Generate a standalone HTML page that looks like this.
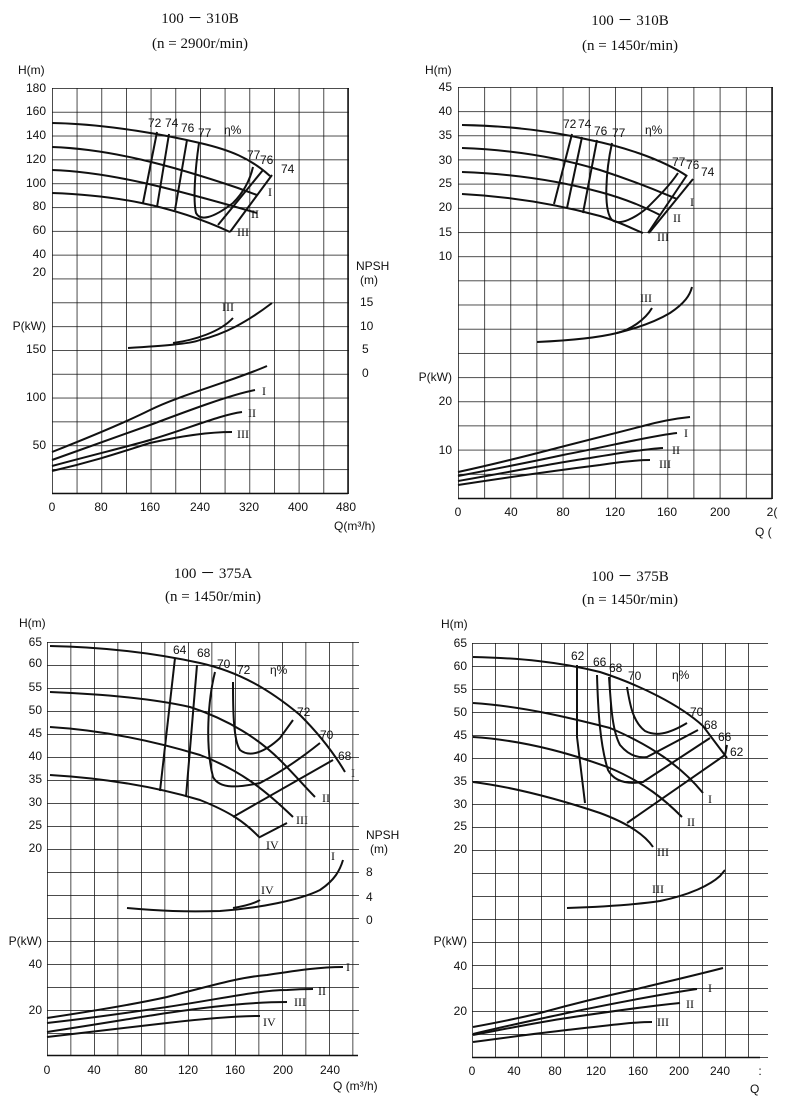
<!DOCTYPE html>
<html><head><meta charset="utf-8"><style>
html,body{margin:0;padding:0;background:#fff}
svg{display:block}
text{font-family:"Liberation Sans",sans-serif;font-size:12px;fill:#111}
.t{font-family:"Liberation Serif",serif;font-size:15px}
.r{font-family:"Liberation Serif",serif;font-size:12px}
path.c{fill:none;stroke:#111;stroke-width:2}
</style></head><body>
<svg width="800" height="1098" viewBox="0 0 800 1098" xmlns="http://www.w3.org/2000/svg">
<defs>
<pattern id="g1" x="52" y="88" width="24.67" height="23.82" patternUnits="userSpaceOnUse"><path d="M0,0H24.67M0,0V23.82" stroke="#111" stroke-width="1.5" fill="none"/></pattern>
<pattern id="g2" x="458" y="87" width="26.17" height="24.18" patternUnits="userSpaceOnUse"><path d="M0,0H26.17M0,0V24.18" stroke="#111" stroke-width="1.5" fill="none"/></pattern>
<pattern id="g3" x="47" y="642" width="23.5" height="23" patternUnits="userSpaceOnUse"><path d="M0,0H23.5M0,0V23" stroke="#111" stroke-width="1.5" fill="none"/></pattern>
<pattern id="g4" x="472" y="643" width="23" height="23" patternUnits="userSpaceOnUse"><path d="M0,0H23M0,0V23" stroke="#111" stroke-width="1.5" fill="none"/></pattern>
</defs>
<rect width="800" height="1098" fill="#fff"/>
<rect x="52" y="88" width="297" height="406" fill="url(#g1)"/>
<path d="M52,493.5H348M348,88V493" stroke="#111" stroke-width="1.5"/>
<rect x="458" y="87" width="315" height="412" fill="url(#g2)"/>
<path d="M458,498.5H772M772,87V498" stroke="#111" stroke-width="1.5"/>
<rect x="47" y="642" width="312" height="414" fill="url(#g3)"/>
<path d="M47,1055.5H358" stroke="#111" stroke-width="1.5"/>
<rect x="472" y="643" width="296" height="415" fill="url(#g4)"/>
<path d="M472,1057.5H760" stroke="#111" stroke-width="1.5"/>

<text class="t" x="200" y="23" text-anchor="middle">100 － 310B</text>
<text class="t" x="200" y="48" text-anchor="middle">(n = 2900r/min)</text>
<text class="t" x="630" y="25" text-anchor="middle">100 － 310B</text>
<text class="t" x="630" y="50" text-anchor="middle">(n = 1450r/min)</text>
<text class="t" x="213" y="578" text-anchor="middle">100 － 375A</text>
<text class="t" x="213" y="601" text-anchor="middle">(n = 1450r/min)</text>
<text class="t" x="630" y="581" text-anchor="middle">100 － 375B</text>
<text class="t" x="630" y="604" text-anchor="middle">(n = 1450r/min)</text>

<g text-anchor="end">
<text x="18" y="74" text-anchor="start">H(m)</text>
<text x="46" y="92">180</text><text x="46" y="115">160</text><text x="46" y="139">140</text><text x="46" y="163">120</text><text x="46" y="187">100</text><text x="46" y="210">80</text><text x="46" y="234">60</text><text x="46" y="258">40</text><text x="46" y="276">20</text>
<text x="46" y="330">P(kW)</text><text x="46" y="353">150</text><text x="46" y="401">100</text><text x="46" y="449">50</text>
</g>
<text x="356" y="270">NPSH</text><text x="360" y="284">(m)</text>
<text x="360" y="306">15</text><text x="360" y="330">10</text><text x="362" y="353">5</text><text x="362" y="377">0</text>
<g text-anchor="middle">
<text x="52" y="511">0</text><text x="101" y="511">80</text><text x="150" y="511">160</text><text x="200" y="511">240</text><text x="249" y="511">320</text><text x="298" y="511">400</text><text x="346" y="511">480</text>
</g>
<text x="334" y="530">Q(m³/h)</text>
<g>
<text x="148" y="127">72</text><text x="165" y="127">74</text><text x="181" y="132">76</text><text x="198" y="137">77</text><text x="224" y="134" font-size="14">η%</text>
<text x="247" y="159">77</text><text x="260" y="164">76</text><text x="281" y="173">74</text>
<text class="r" x="268" y="196">I</text><text class="r" x="251" y="218">II</text><text class="r" x="237" y="236">III</text>
<text class="r" x="222" y="311">III</text>
<text class="r" x="262" y="395">I</text><text class="r" x="248" y="417">II</text><text class="r" x="237" y="438">III</text>
</g>
<g>
<path class="c" d="M52,123 C110,124 170,136 200,143 S250,158 270,176"/>
<path class="c" d="M52,147 C110,149 170,165 238,188 L257,195"/>
<path class="c" d="M52,170 C110,172 170,188 257,213"/>
<path class="c" d="M52,193 C110,195 170,204 230,232"/>
<path class="c" d="M157,132 L143,203"/><path class="c" d="M169,134 L157,207"/><path class="c" d="M187,140 L175,210"/>
<path class="c" d="M199,143 C195,170 193,200 196,213 C200,221 212,219 233,203 C243,193 250,180 253,167"/>
<path class="c" d="M263,170 L218,225"/><path class="c" d="M272,175 L230,232"/>
<path class="c" d="M128,348 C160,346 190,344 200,340 C225,334 247,322 272,303"/>
<path class="c" d="M173,343 C195,340 220,332 233,318"/>
<path class="c" d="M52,452 C100,433 130,420 150,410 C180,395 230,382 267,366"/>
<path class="c" d="M52,460 C100,443 130,432 150,425 C190,410 230,395 255,390"/>
<path class="c" d="M52,466 C100,453 130,446 150,440 C190,428 220,415 242,412"/>
<path class="c" d="M52,471 C100,460 130,449 150,443 C190,434 215,432 232,432"/>
</g>

<g text-anchor="end">
<text x="425" y="74" text-anchor="start">H(m)</text>
<text x="452" y="91">45</text><text x="452" y="115">40</text><text x="452" y="139">35</text><text x="452" y="164">30</text><text x="452" y="187">25</text><text x="452" y="211">20</text><text x="452" y="236">15</text><text x="452" y="260">10</text>
<text x="452" y="381">P(kW)</text><text x="452" y="405">20</text><text x="452" y="454">10</text>
</g>
<g text-anchor="middle">
<text x="458" y="516">0</text><text x="511" y="516">40</text><text x="563" y="516">80</text><text x="615" y="516">120</text><text x="667" y="516">160</text><text x="720" y="516">200</text><text x="772" y="516">2(</text>
</g>
<text x="755" y="536">Q  (</text>
<g>
<text x="563" y="128">72</text><text x="578" y="128">74</text><text x="594" y="135">76</text><text x="612" y="137">77</text><text x="645" y="134" font-size="14">η%</text>
<text x="672" y="166">77</text><text x="686" y="169">76</text><text x="701" y="176">74</text>
<text class="r" x="690" y="206">I</text><text class="r" x="673" y="222">II</text><text class="r" x="657" y="241">III</text>
<text class="r" x="640" y="302">III</text>
<text class="r" x="684" y="437">I</text><text class="r" x="672" y="454">II</text><text class="r" x="659" y="468">III</text>
</g>
<g>
<path class="c" d="M462,125 C520,126 560,133 590,140 C620,146 660,158 687,176"/>
<path class="c" d="M462,148 C520,150 567,160 600,170 C640,183 660,192 677,199"/>
<path class="c" d="M462,172 C520,174 567,183 600,192 C630,200 650,210 660,215"/>
<path class="c" d="M462,194 C520,197 567,207 600,216 C620,222 635,230 643,233"/>
<path class="c" d="M572,134 L554,204"/><path class="c" d="M582,137 L567,208"/><path class="c" d="M597,140 L583,213"/>
<path class="c" d="M612,143 C606,170 603,210 612,220 C620,226 635,218 647,208 C660,195 670,185 678,173"/>
<path class="c" d="M687,175 L648,233"/><path class="c" d="M693,179 L649,233"/>
<path class="c" d="M537,342 C580,340 605,336 617,333 C650,325 665,316 670,313 C685,303 690,295 692,287"/>
<path class="c" d="M617,333 C630,330 645,320 652,308"/>
<path class="c" d="M458,472 C500,463 530,455 557,448 C600,437 620,432 643,426 C665,420 680,418 690,417"/>
<path class="c" d="M458,476 C500,468 540,460 563,455 C610,446 650,436 677,433"/>
<path class="c" d="M458,481 C510,472 560,462 590,458 C620,453 645,449 663,448"/>
<path class="c" d="M458,485 C510,477 560,470 600,465 C620,462 640,460 650,460"/>
</g>

<g text-anchor="end">
<text x="19" y="627" text-anchor="start">H(m)</text>
<text x="42" y="646">65</text><text x="42" y="667">60</text><text x="42" y="691">55</text><text x="42" y="714">50</text><text x="42" y="737">45</text><text x="42" y="760">40</text><text x="42" y="783">35</text><text x="42" y="806">30</text><text x="42" y="829">25</text><text x="42" y="852">20</text>
<text x="42" y="945">P(kW)</text><text x="42" y="968">40</text><text x="42" y="1014">20</text>
</g>
<text x="366" y="839">NPSH</text><text x="370" y="853">(m)</text>
<text x="366" y="876">8</text><text x="366" y="901">4</text><text x="366" y="924">0</text>
<g text-anchor="middle">
<text x="47" y="1074">0</text><text x="94" y="1074">40</text><text x="141" y="1074">80</text><text x="188" y="1074">120</text><text x="235" y="1074">160</text><text x="283" y="1074">200</text><text x="330" y="1074">240</text>
</g>
<text x="333" y="1090">Q  (m³/h)</text>
<g>
<text x="173" y="654">64</text><text x="197" y="657">68</text><text x="217" y="668">70</text><text x="237" y="674">72</text><text x="270" y="674" font-size="14">η%</text>
<text x="297" y="716">72</text><text x="320" y="739">70</text><text x="338" y="760">68</text>
<text class="r" x="351" y="777">I</text><text class="r" x="322" y="802">II</text><text class="r" x="296" y="824">III</text><text class="r" x="266" y="849">IV</text>
<text class="r" x="331" y="860">I</text><text class="r" x="261" y="894">IV</text>
<text class="r" x="346" y="971">I</text><text class="r" x="318" y="995">II</text><text class="r" x="294" y="1006">III</text><text class="r" x="263" y="1026">IV</text>
</g>
<g>
<path class="c" d="M50,646 C100,647 150,652 200,663 C240,672 270,690 300,715 C320,735 335,755 345,772"/>
<path class="c" d="M50,692 C100,694 150,698 190,707 C230,720 260,740 280,760 C295,775 305,787 315,797"/>
<path class="c" d="M50,727 C100,730 150,740 200,755 C240,770 265,790 293,817"/>
<path class="c" d="M50,775 C100,778 150,785 200,800 C230,812 245,822 260,838"/>
<path class="c" d="M175,658 L160,791"/><path class="c" d="M197,665 L186,797"/>
<path class="c" d="M215,672 C208,700 205,745 213,777 C220,790 240,787 260,783 C285,770 305,755 320,743"/>
<path class="c" d="M233,682 C233,705 233,740 240,750 C250,758 265,752 280,738 L293,720"/>
<path class="c" d="M233,817 L333,760"/><path class="c" d="M260,837 L287,823"/>
<path class="c" d="M127,908 C160,911 185,912 220,911 C260,908 300,900 320,890 C335,880 340,870 343,860"/>
<path class="c" d="M233,908 C245,906 255,903 260,900"/>
<path class="c" d="M47,1018 C100,1010 140,1003 167,997 C210,986 240,977 267,975 C300,970 320,967 343,967"/>
<path class="c" d="M47,1023 C100,1017 140,1011 167,1007 C220,999 260,990 287,990 C300,989 310,989 313,989"/>
<path class="c" d="M47,1032 C100,1024 140,1017 167,1013 C220,1005 260,1002 287,1002"/>
<path class="c" d="M47,1037 C100,1031 140,1026 167,1023 C210,1018 240,1016 260,1016"/>
</g>

<g text-anchor="end">
<text x="441" y="628" text-anchor="start">H(m)</text>
<text x="467" y="647">65</text><text x="467" y="670">60</text><text x="467" y="693">55</text><text x="467" y="716">50</text><text x="467" y="739">45</text><text x="467" y="762">40</text><text x="467" y="785">35</text><text x="467" y="808">30</text><text x="467" y="830">25</text><text x="467" y="853">20</text>
<text x="467" y="945">P(kW)</text><text x="467" y="970">40</text><text x="467" y="1015">20</text>
</g>
<g text-anchor="middle">
<text x="472" y="1075">0</text><text x="514" y="1075">40</text><text x="555" y="1075">80</text><text x="596" y="1075">120</text><text x="638" y="1075">160</text><text x="679" y="1075">200</text><text x="720" y="1075">240</text><text x="760" y="1075">:</text>
</g>
<text x="750" y="1093">Q</text>
<g>
<text x="571" y="660">62</text><text x="593" y="666">66</text><text x="609" y="672">68</text><text x="628" y="680">70</text><text x="672" y="679" font-size="14">η%</text>
<text x="690" y="716">70</text><text x="704" y="729">68</text><text x="718" y="741">66</text><text x="730" y="756">62</text>
<text class="r" x="708" y="803">I</text><text class="r" x="687" y="826">II</text><text class="r" x="657" y="856">III</text>
<text class="r" x="652" y="893">III</text>
<text class="r" x="708" y="992">I</text><text class="r" x="686" y="1008">II</text><text class="r" x="657" y="1026">III</text>
</g>
<g>
<path class="c" d="M473,657 C520,658 560,662 600,672 C640,685 680,705 703,726 L727,758"/>
<path class="c" d="M473,703 C520,706 567,717 610,728 C650,745 680,765 703,793"/>
<path class="c" d="M473,737 C520,740 567,752 610,768 C645,783 665,800 682,817"/>
<path class="c" d="M473,782 C520,788 567,802 600,813 C627,823 645,835 653,847"/>
<path class="c" d="M577,665 L577,737 L585,803"/>
<path class="c" d="M597,675 C598,710 600,745 608,770 C615,783 630,784 643,782 L710,738"/>
<path class="c" d="M609,677 C611,705 612,730 620,745 C630,757 640,758 647,757 L698,730"/>
<path class="c" d="M627,687 C630,705 633,722 645,731 C655,736 667,735 687,723"/>
<path class="c" d="M627,823 L725,755 L727,745"/>
<path class="c" d="M567,908 C600,907 633,905 660,901 C690,895 710,885 720,876 L725,870"/>
<path class="c" d="M473,1027 C500,1022 520,1018 540,1013 C580,1002 610,995 633,990 C670,981 700,974 723,968"/>
<path class="c" d="M473,1034 C510,1025 540,1019 567,1013 C620,1002 670,993 697,989"/>
<path class="c" d="M473,1035 C510,1028 540,1022 567,1018 C620,1010 660,1005 680,1003"/>
<path class="c" d="M473,1042 C510,1037 540,1033 567,1030 C610,1025 635,1022 652,1022"/>
</g>
</svg>
</body></html>
